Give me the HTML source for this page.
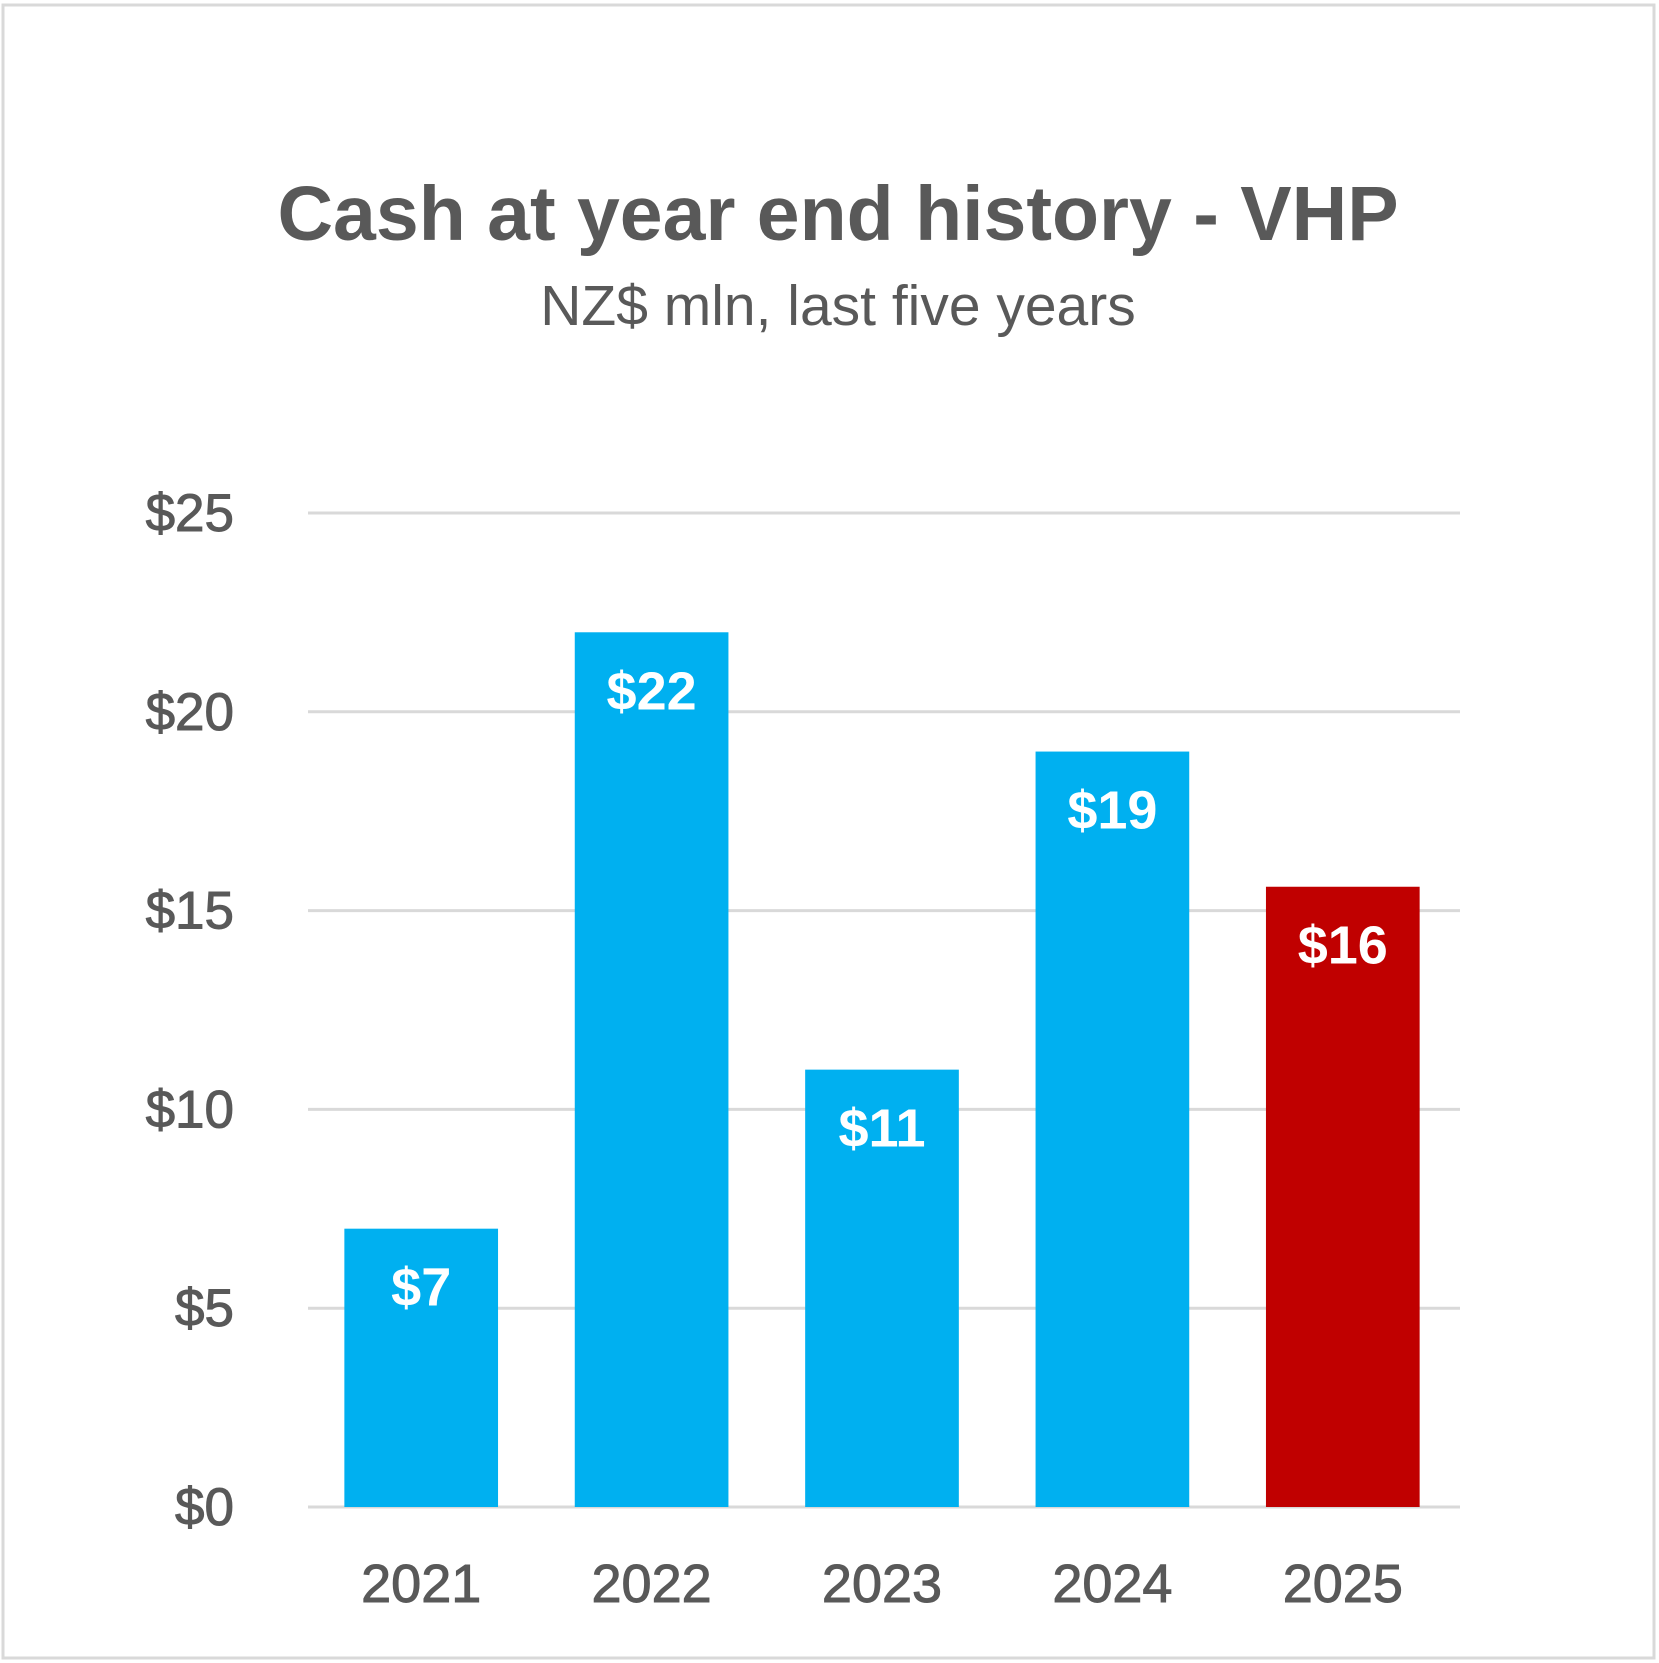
<!DOCTYPE html>
<html><head><meta charset="utf-8"><style>
html,body{margin:0;padding:0;background:#fff}
svg{display:block}
text{font-family:"Liberation Sans",sans-serif}
</style></head><body>
<svg width="1659" height="1663" viewBox="0 0 1659 1663" id="chart">
<rect x="3" y="5" width="1651" height="1653" fill="#fff" stroke="#d9d9d9" stroke-width="3"/>
<text x="838" y="240" text-anchor="middle" font-size="77" font-weight="bold" fill="#595959">Cash at year end history - VHP</text>
<text x="838" y="325" text-anchor="middle" font-size="57" fill="#595959">NZ$ mln, last five years</text>
<g id="grid"></g><g id="bars"></g><g id="labels"></g>
</svg>
<script>
const categories=["2021","2022","2023","2024","2025"];
const values=[7.0,22.0,11.0,19.0,15.6];
const valueLabels=["$7","$22","$11","$19","$16"];
const barColors=["#00b0f0","#00b0f0","#00b0f0","#00b0f0","#c00000"];
const yTicks=[0,5,10,15,20,25];
const yTickLabels=["$0","$5","$10","$15","$20","$25"];
const NS="http://www.w3.org/2000/svg";
const L=308,R=1460,Y0=1507,Ytop=513,YMAX=25;
const y=v=>Y0-(Y0-Ytop)*v/YMAX;
const band=(R-L)/categories.length;
const x=i=>L+band*i;
function mk(t,a,p){const e=document.createElementNS(NS,t);for(const k in a)e.setAttribute(k,a[k]);p.appendChild(e);return e;}
const g=document.getElementById('grid'),b=document.getElementById('bars'),lb=document.getElementById('labels');
yTicks.forEach((t,i)=>{
 const ln=mk('line',{x1:L,x2:R,y1:y(t),y2:y(t),stroke:'#d9d9d9','stroke-width':3},g);
 
 
 const tx=mk('text',{x:234,y:y(t)+18,'text-anchor':'end','font-size':53,fill:'#595959','stroke':'#595959','stroke-width':1},g);
 tx.textContent=yTickLabels[i];
 
 
});
categories.forEach((c,i)=>{
 const bw=band*0.667,bx=x(i)+(band-bw)/2-2;
 const r=mk('rect',{x:bx,y:y(values[i]),width:bw,height:Y0-y(values[i]),fill:barColors[i]},b);
 
 
 const vt=mk('text',{x:bx+bw/2,y:y(values[i])+77,'text-anchor':'middle','font-size':54,'font-weight':'bold',fill:'#fff'},lb);
 vt.textContent=valueLabels[i];
 
 
 const ct=mk('text',{x:bx+bw/2,y:1602,'text-anchor':'middle','font-size':54,fill:'#595959','stroke':'#595959','stroke-width':1},lb);
 ct.textContent=c;
 
 
});
</script>
</body></html>
